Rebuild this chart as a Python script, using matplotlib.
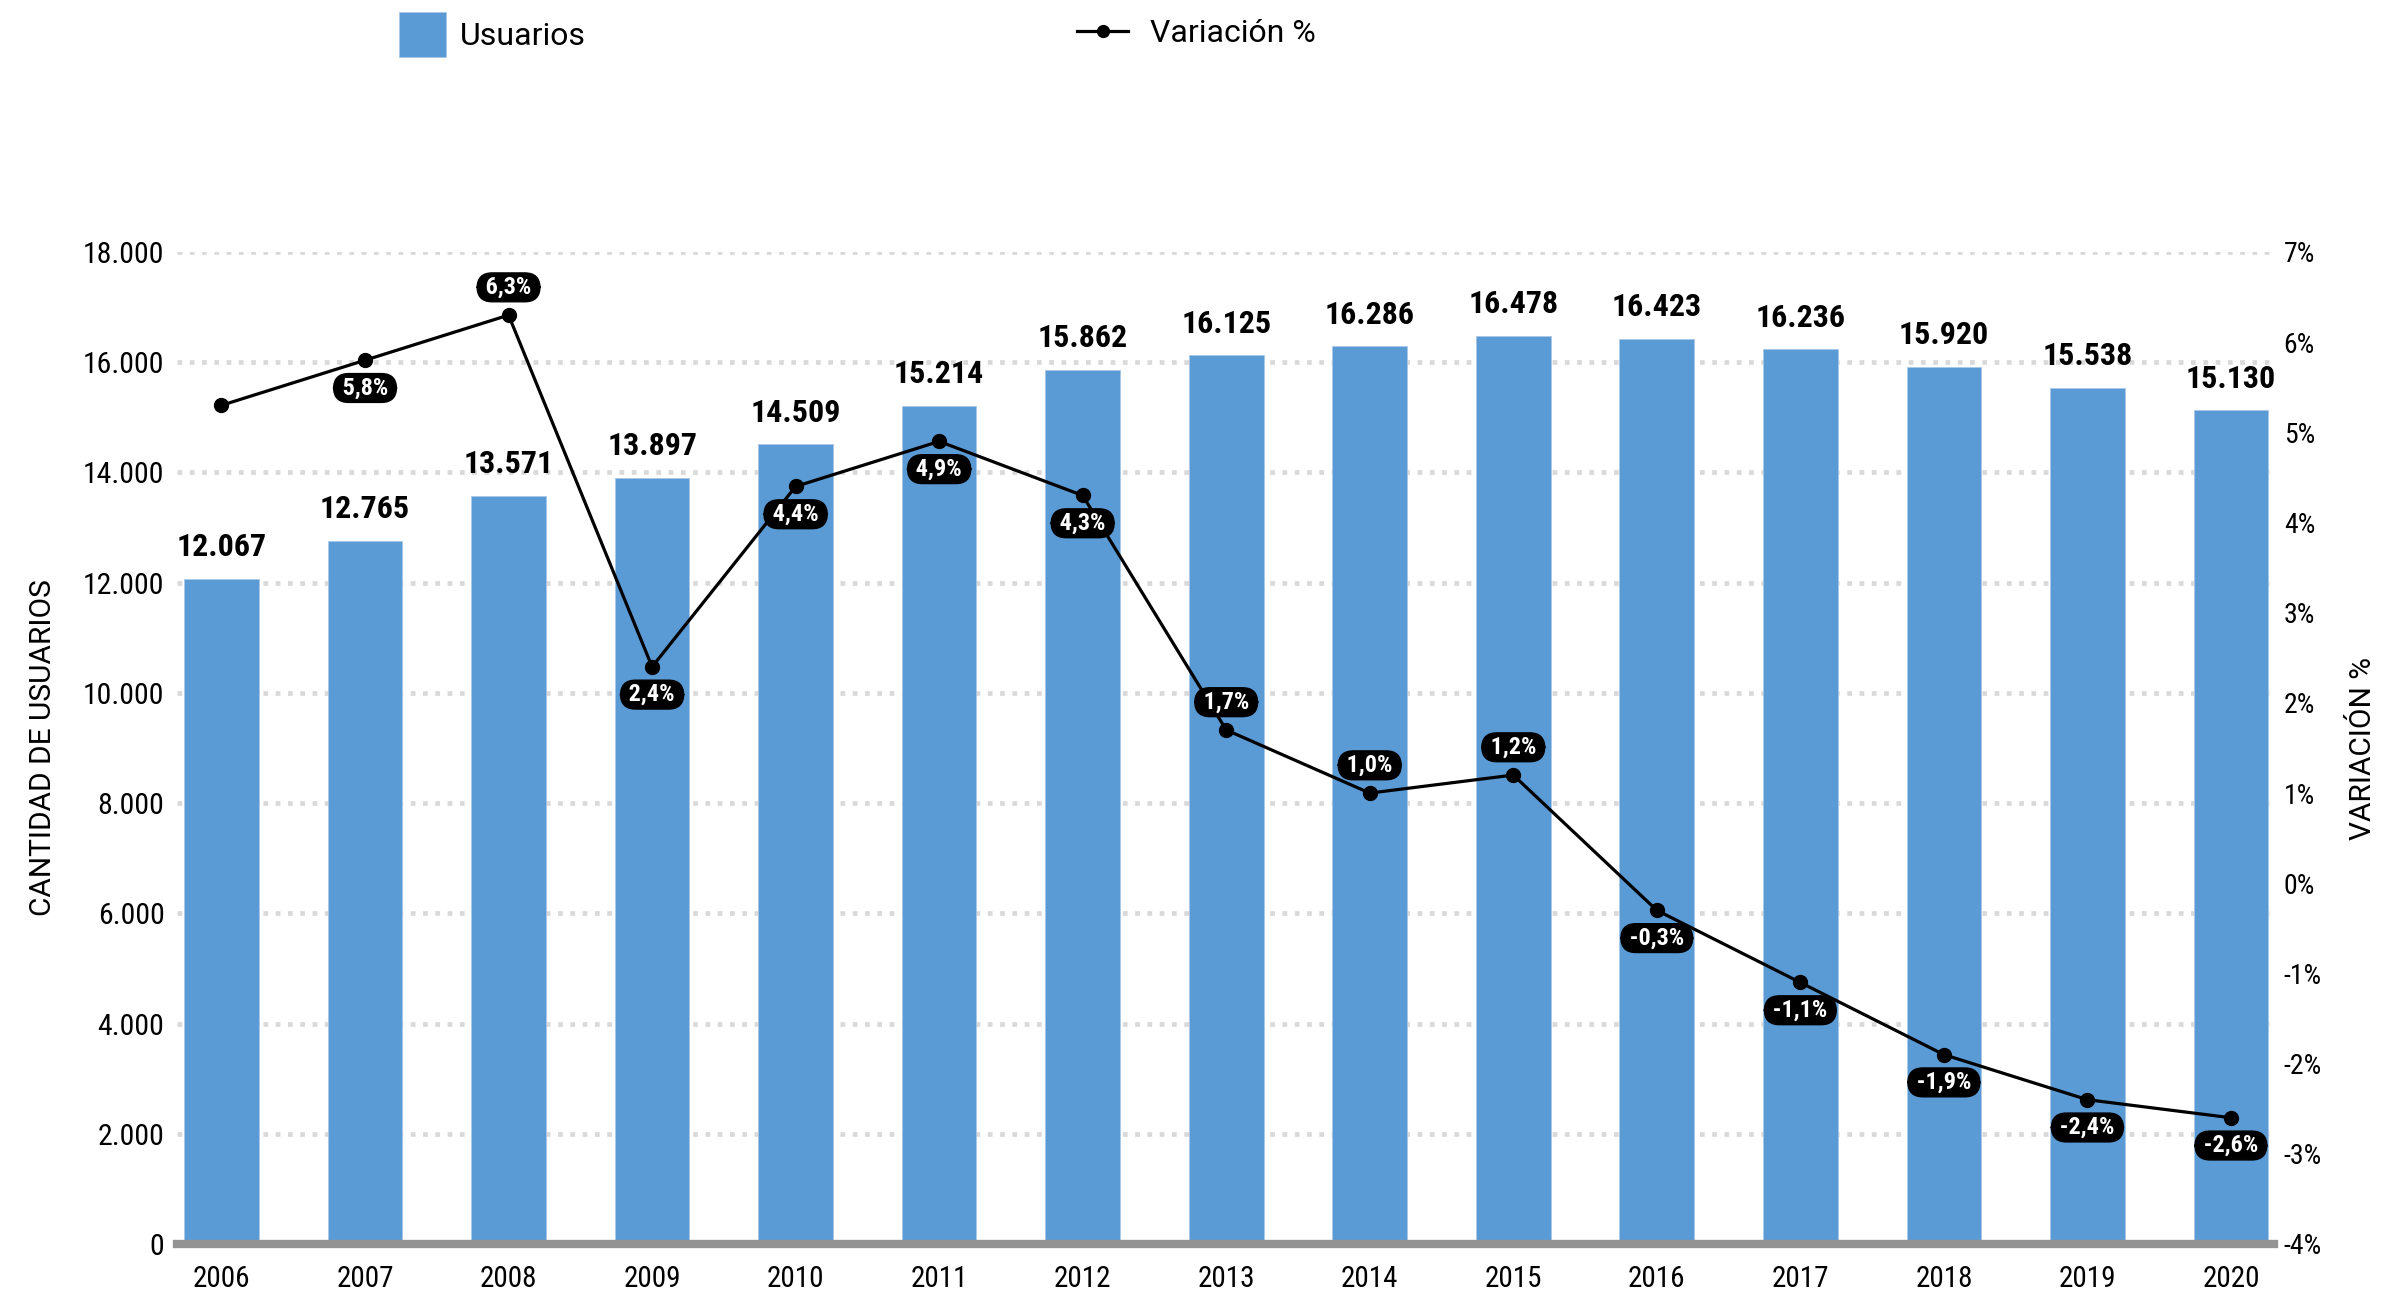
import matplotlib
matplotlib.use("Agg")
import matplotlib.pyplot as plt
from matplotlib import font_manager
from matplotlib.lines import Line2D
from matplotlib.patches import Patch
from matplotlib.ticker import FuncFormatter
import numpy as np

# datos
years = ["2006", "2007", "2008", "2009", "2010", "2011", "2012", "2013",
         "2014", "2015", "2016", "2017", "2018", "2019", "2020"]
usuarios = [12067, 12765, 13571, 13897, 14509, 15214, 15862, 16125,
            16286, 16478, 16423, 16236, 15920, 15538, 15130]
variacion = [5.3, 5.8, 6.3, 2.4, 4.4, 4.9, 4.3, 1.7,
             1.0, 1.2, -0.3, -1.1, -1.9, -2.4, -2.6]
# donde va la etiqueta de variacion: 1 arriba, -1 abajo, 0 sin etiqueta
pill_side = [0, -1, 1, -1, -1, -1, -1, 1, 1, 1, -1, -1, -1, -1, -1]

BLUE = "#5b9bd5"
names = {f.name for f in font_manager.fontManager.ttflist}
NARROW = "Roboto"
for cand in ["Roboto Condensed", "Liberation Sans Narrow"]:
    if cand in names:
        NARROW = cand
        break
plt.rcParams["font.family"] = ["Roboto", "DejaVu Sans"]

W, H = 2408, 1293
fig = plt.figure(figsize=(W / 100, H / 100), dpi=100)
fig.subplots_adjust(left=177 / W, right=2274 / W, bottom=1 - 1244 / H, top=1 - 252 / H)
ax = fig.add_subplot(111)

x = np.arange(len(years))
ax.bar(x, usuarios, width=0.52, color=BLUE, edgecolor="#a9c8e8", linewidth=0.6, zorder=2)
ax.set_xlim(-0.31, 14.3)
ax.set_ylim(0, 18000)
ax.set_yticks(np.arange(0, 18001, 2000))
ax.yaxis.set_major_formatter(FuncFormatter(lambda v, p: f"{int(v):,}".replace(",", ".")))
ax.set_xticks(x)
ax.set_xticklabels(years)
ax.set_axisbelow(True)
ax.grid(axis="y", color="#d9d9d9", linewidth=3.4, linestyle=(0, (1, 1.6)))
ax.axhline(0, color="#939393", linewidth=6, zorder=3, clip_on=False)
for s in ax.spines.values():
    s.set_visible(False)
ax.tick_params(axis="y", length=0, pad=9, labelsize=21.5)
ax.tick_params(axis="x", length=0, pad=15, labelsize=21)
for lbl in ax.get_yticklabels() + ax.get_xticklabels():
    lbl.set_fontfamily(NARROW)

for xi, v in zip(x, usuarios):
    ax.annotate(f"{v:,}".replace(",", "."), (xi, v), xytext=(0, 12),
                textcoords="offset points", ha="center", va="bottom",
                fontsize=23, fontweight="bold", family=NARROW, color="black")

ax.set_ylabel("CANTIDAD DE USUARIOS", fontsize=21.5)
ax.yaxis.set_label_coords(-0.057, 0.5)

ax2 = ax.twinx()
ax2.plot(x, variacion, color="black", linewidth=2.3, marker="o", markersize=10, zorder=4)
ax2.set_ylim(-4, 7)
ax2.set_yticks(np.arange(-4, 8, 1))
ax2.yaxis.set_major_formatter(FuncFormatter(lambda v, p: f"{int(round(v))}%"))
for s in ax2.spines.values():
    s.set_visible(False)
ax2.tick_params(axis="y", length=0, pad=7, labelsize=20)
for lbl in ax2.get_yticklabels():
    lbl.set_fontfamily(NARROW)
ax2.set_ylabel("VARIACIÓN %", fontsize=21.5, rotation=90)
ax2.yaxis.set_label_coords(1.036, 0.5)

for xi, v, side in zip(x, variacion, pill_side):
    if side == 0:
        continue
    txt = " " + f"{v:.1f}".replace(".", ",") + "% "
    ax2.annotate(txt, (xi, v), xytext=(0, 20 * side), textcoords="offset points",
                 ha="center", va="center", fontsize=17.5, fontweight="bold",
                 family=NARROW, color="white", zorder=5,
                 bbox=dict(boxstyle="round,pad=0.12,rounding_size=0.62",
                           fc="black", ec="black"))

# leyenda arriba
h_bar = Patch(facecolor=BLUE, edgecolor="#a9c8e8", linewidth=0.6)
h_line = Line2D([], [], color="black", linewidth=2.3, marker="o", markersize=8.5)
fig.legend(handles=[h_bar], labels=["Usuarios"], loc="upper left",
           bbox_to_anchor=(399 / W, 1 - 12 / H), frameon=False, fontsize=23,
           borderpad=0, borderaxespad=0, handlelength=1.47, handleheight=1.8,
           handletextpad=0.44)
fig.legend(handles=[h_line], labels=["Variación %"], loc="center left",
           bbox_to_anchor=(1077 / W, 1 - 34 / H), frameon=False, fontsize=23,
           borderpad=0, borderaxespad=0, handlelength=1.6, handletextpad=0.7)

fig.savefig("out.png", dpi=100)
